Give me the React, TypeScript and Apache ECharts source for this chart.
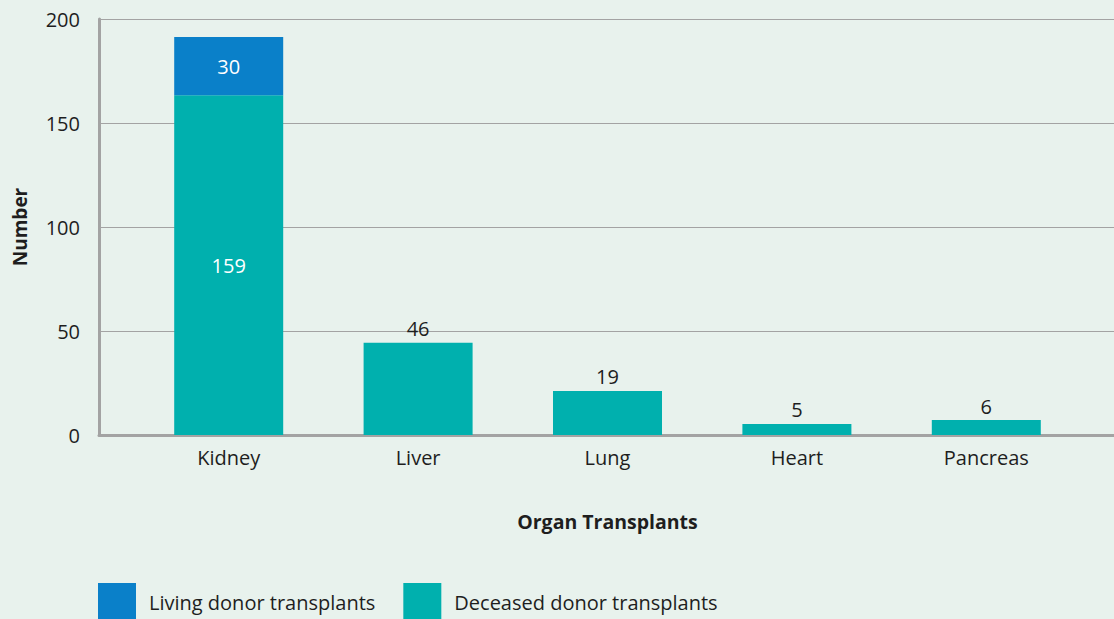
import React, { useEffect, useRef } from "react";
import * as echarts from "echarts";

const categories = ["Kidney", "Liver", "Lung", "Heart", "Pancreas"];
// bar heights as drawn in the reference
const deceasedValues = [163.4, 44.3, 21.2, 5.3, 7.2];
const livingValues = [27.9, null, null, null, null];
// label texts as printed in the reference
const deceasedLabels = ["159", "46", "19", "5", "6"];
const livingLabels = ["30", "", "", "", ""];
const yTicks = { min: 0, max: 200, interval: 50 };

const FONT = "'Open Sans', Lato, sans-serif";
const TEXT = "#1e1e1e";
const BLUE = "#0a80c9";
const TEAL = "#00b0ae";
const AXIS = "#a3a3a3";

export default function App() {
  const ref = useRef<HTMLDivElement>(null);
  useEffect(() => {
    if (!ref.current) return;
    const chart = echarts.init(ref.current, undefined, { renderer: "svg" });
    chart.setOption({
      animation: false,
      backgroundColor: "#e8f2ed",
      textStyle: { fontFamily: FONT },
      grid: [
        { left: 99, right: 0, top: 19, bottom: 184 },
        { left: 134, right: 33, top: 19, bottom: 184 },
      ],
      legend: {
        left: 98,
        top: 583,
        padding: 0,
        itemWidth: 38,
        itemHeight: 38,
        itemGap: 28,
        icon: "rect",
        data: ["Living donor transplants", "Deceased donor transplants"],
        textStyle: { fontSize: 20, color: TEXT, fontFamily: FONT, padding: [0, 0, 0, 8] },
      },
      xAxis: [
        {
          gridIndex: 0,
          type: "value",
          min: 0,
          max: 1,
          axisLabel: { show: false },
          axisTick: { show: false },
          splitLine: { show: false },
          axisLine: { show: true, lineStyle: { color: AXIS, width: 3 } },
        },
        {
          gridIndex: 1,
          type: "category",
          data: categories,
          axisLine: { show: false },
          axisTick: { show: false },
          axisLabel: { fontSize: 20, color: TEXT, margin: 12, fontFamily: FONT },
          name: "Organ Transplants",
          nameLocation: "middle",
          nameGap: 76,
          nameTextStyle: { fontSize: 19.5, fontWeight: "bold", color: TEXT, fontFamily: FONT },
        },
      ],
      yAxis: [
        {
          gridIndex: 0,
          type: "value",
          min: yTicks.min,
          max: yTicks.max,
          interval: yTicks.interval,
          axisLine: { show: true, lineStyle: { color: AXIS, width: 3 } },
          axisTick: { show: false },
          splitLine: { show: true, lineStyle: { color: AXIS, width: 1 } },
          axisLabel: { fontSize: 20, color: TEXT, margin: 19, fontFamily: FONT },
          name: "Number",
          nameLocation: "middle",
          nameGap: 70,
          nameTextStyle: { fontSize: 19, fontWeight: "bold", color: TEXT, fontFamily: FONT },
        },
        {
          gridIndex: 1,
          type: "value",
          min: yTicks.min,
          max: yTicks.max,
          show: false,
        },
      ],
      series: [
        {
          name: "Deceased donor transplants",
          type: "bar",
          xAxisIndex: 1,
          yAxisIndex: 1,
          stack: "total",
          barWidth: 109,
          itemStyle: { color: TEAL },
          data: deceasedValues.map((v, i) => ({
            value: v,
            label:
              i === 0
                ? { show: true, position: "inside", color: "#ffffff", fontSize: 20, fontFamily: FONT, formatter: () => deceasedLabels[i] }
                : { show: true, position: "top", distance: 4, color: TEXT, fontSize: 20, fontFamily: FONT, formatter: () => deceasedLabels[i] },
          })),
        },
        {
          name: "Living donor transplants",
          type: "bar",
          xAxisIndex: 1,
          yAxisIndex: 1,
          stack: "total",
          barWidth: 109,
          itemStyle: { color: BLUE },
          data: livingValues.map((v, i) => ({
            value: v,
            label: { show: v != null, position: "inside", color: "#ffffff", fontSize: 20, fontFamily: FONT, formatter: () => livingLabels[i] },
          })),
        },
      ],
    });
    return () => chart.dispose();
  }, []);
  return <div ref={ref} style={{ position: "fixed", left: 0, top: 0, width: 1114, height: 619 }} />;
}
